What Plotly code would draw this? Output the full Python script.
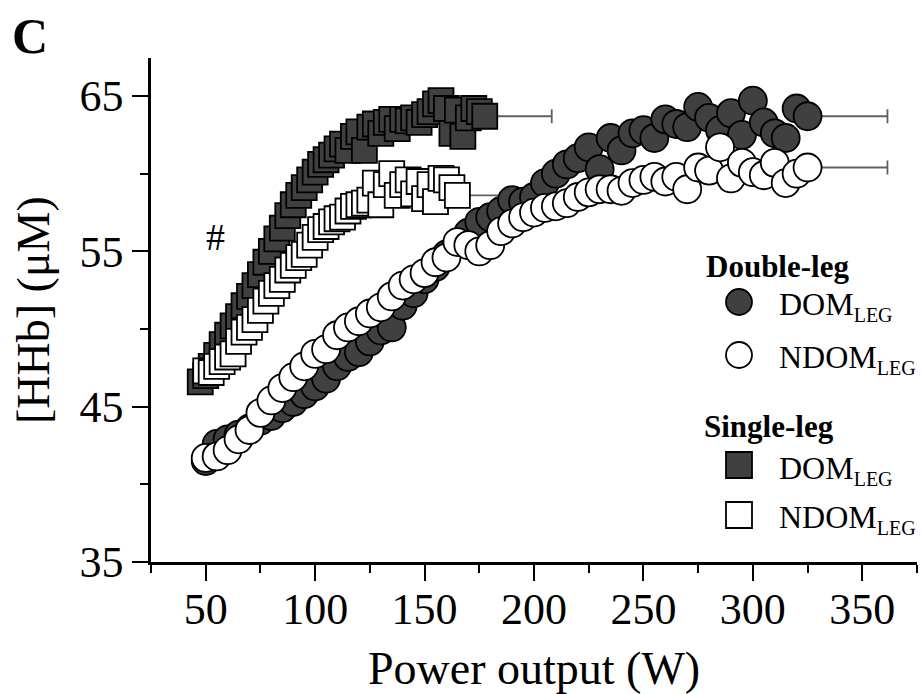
import plotly.graph_objects as go

# ---------------- data ----------------
dbl_x = [50, 55, 60, 65, 70, 75, 80, 85, 90, 95, 100, 105, 110, 115, 120, 125, 130, 135, 140, 145,
         150, 155, 160, 165, 170, 175, 180, 185, 190, 195, 200, 205, 210, 215, 220, 225, 230, 235, 240, 245,
         250, 255, 260, 265, 270, 275, 280, 285, 290, 295, 300, 305, 310, 315, 320, 325]
dbl_dom_y = [41.5, 42.6, 42.9, 43.2, 43.6, 44.1, 44.4, 44.9, 45.3, 45.8, 46.3, 46.8, 47.6, 48.2, 48.5, 49.2, 49.9, 50.1, 51.5, 52.3,
             53.2, 54.0, 54.8, 55.5, 56.2, 56.9, 57.2, 57.6, 58.3, 58.2, 58.5, 59.4, 60.0, 60.6, 61.0, 61.7, 60.3, 62.3, 61.5, 62.6,
             62.8, 62.3, 63.5, 63.2, 63.0, 64.3, 63.6, 62.8, 63.9, 62.5, 64.7, 63.3, 62.6, 62.3, 64.2, 63.7]
dbl_ndom_y = [41.7, 41.8, 42.2, 42.9, 43.5, 44.6, 45.4, 46.2, 46.9, 47.6, 48.4, 48.7, 49.6, 50.1, 50.5, 51.0, 51.4, 52.1, 52.8, 53.2,
              53.6, 54.3, 54.6, 55.6, 55.4, 55.0, 55.4, 56.3, 56.8, 57.2, 57.5, 57.8, 57.9, 58.1, 58.5, 58.8, 59.0, 59.0, 58.9, 59.4,
              59.6, 59.8, 59.5, 59.8, 59.0, 60.4, 60.2, 61.7, 59.7, 60.7, 60.1, 59.9, 60.7, 59.4, 60.0, 60.4]

sgl_dom_x = [47.5, 50, 52.5, 55, 57.5, 60, 62.5, 65, 67.5, 70, 72.5, 75, 77.5, 80, 82.5, 85, 87.5, 90, 92.5, 95,
             97.5, 100, 102.5, 105, 107.5, 110, 112.5, 115, 117.5, 120, 122.5, 125, 127.5, 130, 132.5, 135, 137.5, 140,
             142.5, 145, 147.5, 150, 152.5, 155, 157.5, 160, 162.5, 165, 167.5, 170, 172.5, 175, 177.5]
sgl_dom_y = [46.6, 47.0, 47.6, 48.3, 49.0, 49.6, 50.2, 50.8, 51.5, 52.1, 52.8, 53.5, 54.3, 55.0, 55.8, 56.5, 57.3, 58.0, 58.6, 59.1,
             59.6, 60.1, 60.6, 60.9, 61.2, 61.6, 61.9, 61.5, 62.4, 62.7, 61.5, 63.0, 63.2, 62.6, 63.3, 63.5, 62.9, 63.5,
             63.4, 63.6, 63.3, 63.8, 64.0, 64.5, 64.7, 64.2, 62.6, 64.1, 62.4, 63.6, 64.2, 64.0, 63.7]

sgl_ndom_x = [50, 52.5, 55, 57.5, 60, 62.5, 65, 67.5, 70, 72.5, 75, 77.5, 80, 82.5, 85, 87.5, 90, 92.5, 95, 97.5,
              100, 102.5, 105, 107.5, 110, 112.5, 115, 117.5, 120, 122.5, 125, 127.5, 130, 132.5, 135, 137.5, 140,
              142.5, 145, 147.5, 150, 152.5, 155, 157.5, 160, 162.5, 165]
sgl_ndom_y = [47.3, 47.2, 47.6, 47.9, 48.2, 48.4, 49.2, 49.8, 50.1, 50.6, 51.2, 51.8, 52.3, 52.8, 53.2, 53.8, 54.1, 54.6, 54.8, 55.4,
              55.9, 56.4, 56.6, 56.9, 57.1, 57.2, 57.6, 57.9, 58.0, 58.1, 58.3, 59.4, 58.0, 59.3, 60.0, 58.6, 59.3,
              59.6, 58.7, 59.5, 58.4, 59.3, 58.2, 59.7, 59.6, 59.1, 58.6]

# SD (one-sided, shown on the final point of each series)
err_sgl_dom = 30.6
err_sgl_ndom = 28.0
err_dbl_dom = 36.5
err_dbl_ndom = 36.5

x_ticks = [50, 100, 150, 200, 250, 300, 350]
x_minor = [25, 75, 125, 175, 225, 275, 325, 375]
y_ticks = [35, 45, 55, 65]
y_minor = [40, 50, 60]

DARK = "#404040"
FONT = "Liberation Serif"

fig = go.Figure()

# error bars (drawn first so markers cover their origin)
fig.add_trace(go.Scatter(
    x=[sgl_dom_x[-1], sgl_ndom_x[-1], dbl_x[-1], dbl_x[-1]],
    y=[sgl_dom_y[-1], sgl_ndom_y[-1], dbl_dom_y[-1], dbl_ndom_y[-1]],
    mode="markers", marker=dict(size=1, opacity=0), showlegend=False, hoverinfo="skip",
    error_x=dict(type="data", symmetric=False,
                 array=[err_sgl_dom, err_sgl_ndom, err_dbl_dom, err_dbl_ndom],
                 arrayminus=[0, 0, 0, 0], color="#606060", thickness=1.8, width=7)))

fig.add_trace(go.Scatter(x=sgl_dom_x, y=sgl_dom_y, mode="markers", name="Single-leg DOM",
                         marker=dict(symbol="square", size=25, color=DARK, line=dict(color="black", width=1.8))))
fig.add_trace(go.Scatter(x=sgl_ndom_x, y=sgl_ndom_y, mode="markers", name="Single-leg NDOM",
                         marker=dict(symbol="square", size=25, color="white", line=dict(color="black", width=1.8))))
fig.add_trace(go.Scatter(x=dbl_x, y=dbl_dom_y, mode="markers", name="Double-leg DOM",
                         marker=dict(symbol="circle", size=28, color=DARK, line=dict(color="black", width=1.8))))
fig.add_trace(go.Scatter(x=dbl_x, y=dbl_ndom_y, mode="markers", name="Double-leg NDOM",
                         marker=dict(symbol="circle", size=28, color="white", line=dict(color="black", width=1.8))))

L, R, T, B = 151, 5, 58, 132
W, H = 922, 694
PW, PH = W - L - R, H - T - B


def px(xp):
    return (xp - L) / PW


def py(yp):
    return (H - B - yp) / PH


SUB = "<sub><span style='font-size:20px'>LEG</span></sub>"

annotations = [
    dict(text="<b>C</b>", x=px(10), y=py(36), xref="paper", yref="paper", xanchor="left", yanchor="middle",
         showarrow=False, font=dict(family=FONT, size=50, color="black")),
    dict(text="#", x=54.6, y=55.9, xref="x", yref="y", showarrow=False,
         font=dict(family=FONT, size=38, color="black")),
    dict(text="Power output (W)", x=px(534), y=py(668), xref="paper", yref="paper", xanchor="center",
         yanchor="middle", showarrow=False, font=dict(family=FONT, size=46, color="black")),
    dict(text="[HHb] (μM)", x=px(33), y=0.5, xref="paper", yref="paper", xanchor="center",
         yanchor="middle", textangle=-90, showarrow=False, font=dict(family=FONT, size=46, color="black")),
    dict(text="<b>Double-leg</b>", x=px(704), y=py(266), xref="paper", yref="paper", xanchor="left",
         yanchor="middle", showarrow=False, font=dict(family=FONT, size=31, color="black")),
    dict(text="DOM" + SUB, x=px(777), y=py(306), xref="paper", yref="paper", xanchor="left",
         yanchor="middle", showarrow=False, font=dict(family=FONT, size=32, color="black")),
    dict(text="NDOM" + SUB, x=px(777), y=py(359), xref="paper", yref="paper", xanchor="left",
         yanchor="middle", showarrow=False, font=dict(family=FONT, size=32, color="black")),
    dict(text="<b>Single-leg</b>", x=px(702), y=py(426), xref="paper", yref="paper", xanchor="left",
         yanchor="middle", showarrow=False, font=dict(family=FONT, size=31, color="black")),
    dict(text="DOM" + SUB, x=px(777), y=py(470), xref="paper", yref="paper", xanchor="left",
         yanchor="middle", showarrow=False, font=dict(family=FONT, size=32, color="black")),
    dict(text="NDOM" + SUB, x=px(777), y=py(519), xref="paper", yref="paper", xanchor="left",
         yanchor="middle", showarrow=False, font=dict(family=FONT, size=32, color="black")),
]


def legend_shape(kind, cx, cy, fill):
    return dict(type=kind, xref="paper", yref="paper", xsizemode="pixel", ysizemode="pixel",
                xanchor=px(cx), yanchor=py(cy), x0=-13, x1=13, y0=-13, y1=13,
                fillcolor=fill, line=dict(color="black", width=1.8))


shapes = [
    legend_shape("circle", 739, 302, DARK),
    legend_shape("circle", 739, 355, "white"),
    legend_shape("rect", 739, 465, DARK),
    legend_shape("rect", 739, 515, "white"),
]

axis_common = dict(showline=True, linecolor="black", linewidth=2.5, ticks="outside", tickwidth=2.2,
                   tickcolor="black", ticklen=16, showgrid=False, zeroline=False,
                   tickfont=dict(family=FONT, size=44, color="black"))

fig.update_layout(
    width=W, height=H, margin=dict(l=L, r=R, t=T, b=B),
    paper_bgcolor="white", plot_bgcolor="white", showlegend=False,
    font=dict(family=FONT, color="black"),
    annotations=annotations, shapes=shapes,
    xaxis=dict(range=[25, 375], tickmode="array", tickvals=x_ticks, ticktext=[str(v) for v in x_ticks],
               minor=dict(tickmode="array", tickvals=x_minor, ticks="outside", ticklen=8, tickwidth=2.2,
                          tickcolor="black"),
               ticklabelstandoff=-10,
               **axis_common),
    yaxis=dict(range=[35, 67.45], tickmode="array", tickvals=y_ticks, ticktext=[str(v) for v in y_ticks],
               minor=dict(tickmode="array", tickvals=y_minor, ticks="outside", ticklen=8, tickwidth=2.2,
                          tickcolor="black"),
               **axis_common),
)

fig.write_html("out.html")
